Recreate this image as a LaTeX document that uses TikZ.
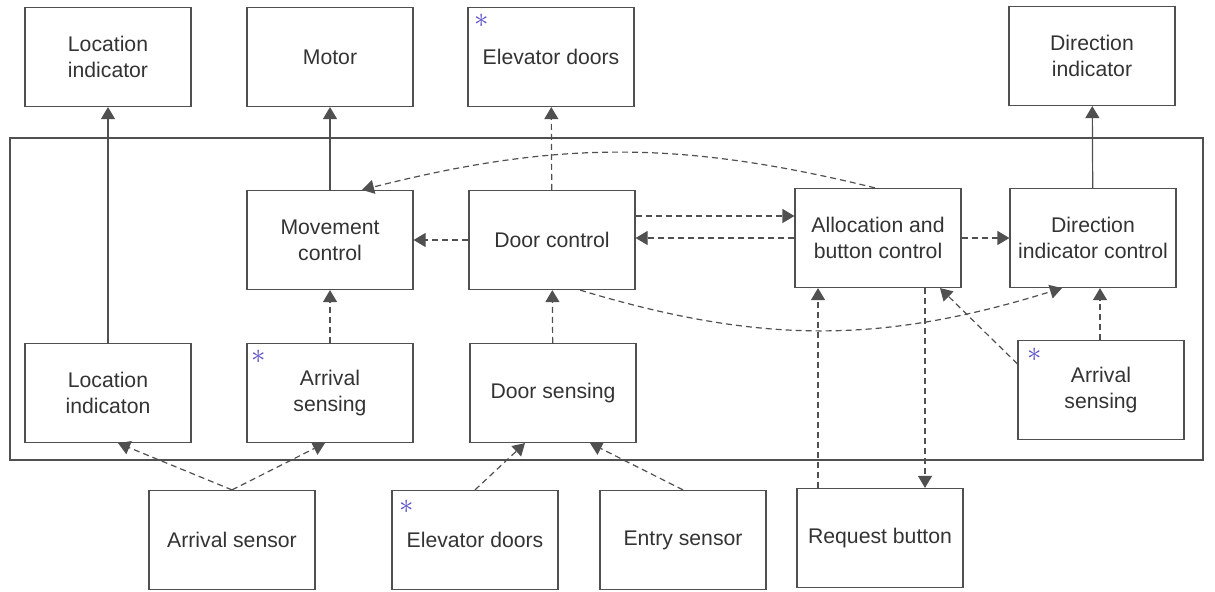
\documentclass[tikz,border=0pt]{standalone}
\usepackage{fontspec}
\setmainfont{Liberation Sans}
\usetikzlibrary{arrows.meta}
\definecolor{linegray}{HTML}{505050}
\definecolor{textgray}{HTML}{333333}
\definecolor{penblue}{HTML}{5A4FC8}

\begin{document}
\begin{tikzpicture}[x=0.5pt,y=-0.5pt]
	\tikzset{block/.style = {shape=rectangle,draw=linegray,line width=0.6pt,
			minimum width=83pt,minimum height=49.5pt,inner sep=0pt,
			align=center,text=textgray,font=\fontsize{10.6}{13}\selectfont}}
	\tikzset{edge/.style = {-{Triangle[width=7pt,length=6pt]},draw=linegray,line width=0.6pt}}
	\tikzset{edgedash/.style = {edge,dash pattern=on 3pt off 2pt}}
	\tikzset{penmark/.style = {text=penblue,inner sep=0pt,font=\Large}}
	
	\useasboundingbox (0,0) rectangle (1215,592);
	
	% outer system box
	\draw[linegray,line width=0.6pt] (10,138) rectangle (1203,460);
	
	% vertices
	\node[block] (locind) at (108,57) {Location\\indicator};
	\node[block] (motor) at (330,57) {Motor};
	\node[block] (doorsT) at (551,57) {Elevator doors};
	\node[block] (dirind) at (1092,56) {Direction\\indicator};
	
	\node[block] (movctl) at (330,240) {Movement\\control};
	\node[block] (doorctl) at (552,240) {Door control};
	\node[block] (alloc) at (878,238) {Allocation and\\button control};
	\node[block] (dirctl) at (1093,238) {Direction\\indicator control};
	
	\node[block] (locating) at (108,393) {Location\\indicaton};
	\node[block] (arrL) at (330,393) {Arrival\\sensing};
	\node[block] (doorsens) at (553,393) {Door sensing};
	\node[block] (arrR) at (1101,390) {Arrival\\sensing};
	
	\node[block] (arrsensor) at (232,540) {Arrival sensor};
	\node[block] (doorsB) at (475,540) {Elevator doors};
	\node[block] (entry) at (683,540) {Entry sensor};
	\node[block] (request) at (880,538) {Request button};
	
	% pen marks
	\node[penmark] (m1) at ([xshift=7pt,yshift=-7pt]doorsT.north west) {$\ast$};
	\node[penmark] (m2) at ([xshift=6pt,yshift=-7pt]arrL.north west) {$\ast$};
	\node[penmark] (m3) at ([xshift=8.5pt,yshift=-7.5pt]arrR.north west) {$\ast$};
	\node[penmark] (m4) at ([xshift=7.5pt,yshift=-8.5pt]doorsB.north west) {$\ast$};
	
	%edges
	\draw[edge] (locating) to (locind);
	\draw[edge] (movctl) to (motor);
	\draw[edgedash] (doorctl) to (doorsT);
	\draw[edge] (dirctl) to (dirind);
	
	\draw[edgedash] (doorctl) to (movctl);
	\draw[edgedash] ([yshift=12pt]doorctl.east) coordinate (p1) to (p1 -| alloc.west);
	\draw[edgedash] (alloc.west) to (alloc.west -| doorctl.east);
	\draw[edgedash] (alloc) to (dirctl);
	\draw[edgedash, bend right = 14] ([xshift=-1.5pt]alloc.north) to ([xshift=16pt]movctl.north);
	\draw[edgedash, bend right = 17] ([xshift=14pt]doorctl.south) to ([xshift=-15.5pt]dirctl.south);
	
	\draw[edgedash] (arrL) to (movctl);
	\draw[edgedash] (doorsens) to (doorctl);
	\draw[edgedash] ([xshift=-0.5pt]arrR.north) coordinate (p2) to (p2 |- dirctl.south);
	\draw[edgedash] ([yshift=-12pt]arrR.north west) to ([xshift=31pt]alloc.south);
	\draw[edgedash] ([xshift=-31pt]request.north) coordinate (p3) to (p3 |- alloc.south);
	\draw[edgedash] ([xshift=23.5pt]alloc.south) coordinate (p4) to (p4 |- request.north);
	
	\draw[edgedash] (arrsensor.north) to ([xshift=5pt]locating.south);
	\draw[edgedash] (arrsensor.north) to ([xshift=-2.5pt]arrL.south);
	\draw[edgedash] (doorsB.north) to ([xshift=-14pt]doorsens.south);
	\draw[edgedash] (entry.north) to ([xshift=18.5pt]doorsens.south);
\end{tikzpicture}
\end{document}
